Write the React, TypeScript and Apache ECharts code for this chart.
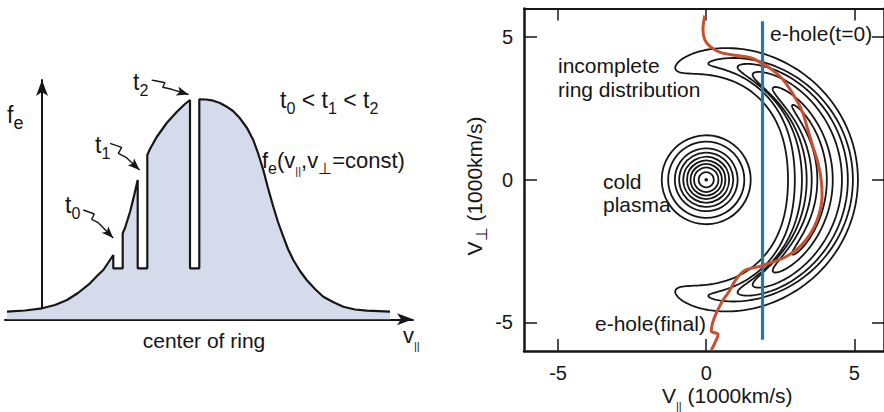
import React, { useEffect, useRef } from "react";
import * as echarts from "echarts";

const FONT = "'Liberation Sans', Arial, Helvetica, sans-serif";
const INK = "#161616";

// ---------- Left panel: schematic profile f_e(v||) with three holes (arbitrary units) ----------
const profileV = [-35, -17, 0, 13, 25, 36, 48, 56, 61.3, 66, 71.3, 71.3, 80.7, 80.7, 83, 88, 92, 95.7, 95.7, 105.3, 105.3, 108, 114.7, 124.7, 134.7, 143, 148, 148, 157.3, 157.3, 164, 171.3, 178, 184.7, 191, 198, 205, 211.3, 216, 221.3, 226, 231.3, 236, 241.3, 246, 251.3, 258, 264.7, 273, 281.3, 291, 301.3, 313, 324.7, 348];
const profileF = [7.6, 8.8, 11, 14.3, 19.3, 26.3, 36, 44.3, 49.3, 56.3, 64.3, 51, 51, 86, 91.3, 107.3, 123.3, 139.3, 51, 51, 164.3, 170.3, 182.3, 196.3, 207.3, 215.3, 219.3, 51, 51, 220, 219.8, 218.6, 216.3, 212.6, 208.3, 201, 191.3, 179.3, 166.3, 149.3, 131.3, 112.6, 97.3, 82.6, 70.3, 59.3, 48.3, 39.3, 30.3, 22.6, 17.3, 12.6, 9.8, 8.6, 7.6];

// squiggly pointer arrows (label -> hole)
const arrowT0 = [[41.3, 109.3], [52.3, 105.3], [49.7, 100], [56.3, 96.6], [71.2, 81.2]];
const arrowT1 = [[68, 176], [79.7, 172], [76.3, 166], [84, 162], [97.6, 149.4]];
const arrowT2 = [[109.7, 239.3], [123, 236.6], [120.7, 232], [129.7, 230], [146.5, 224.8]];
const arrowRot = [-136, -133, -107];

// ---------- Right panel: contours in (V||, V_perp) plane, 1000 km/s ----------
const axisTicks = [-5, 0, 5];
const coldCenter = [0, 0];
const coldRadii = [1.53, 1.31, 1.08, 0.93, 0.79, 0.66, 0.54, 0.42, 0.26];

// crescent ("incomplete ring") contour levels, outer to inner
// outer edge r = Ro + Do*cos(th), inner edge r = Ri - Di*cos(th)^2, ends at +/- tip angle
const crescentRo = [4.63, 4.28, 4.25, 4.15, 4.0, 3.95];
const crescentDo = [0.49, 0.67, 0.53, 0.43, 0.27, 0.12];
const crescentRi = [3.6, 3.85, 3.85, 3.8, 3.78, 3.82];
const crescentDi = [0.84, 0.86, 0.62, 0.41, 0.22, 0.07];
const crescentTipDeg = [105, 89, 75, 67, 55, 42];

// e-hole trajectories
const holeStartX = [1.9, 1.9];
const holeStartY = [5.55, -5.61];
const holeFinalX = [-0.05, -0.11, -0.05, 0.12, 0.45, 1.02, 1.52, 1.86, 2.14, 2.59, 3.04, 3.26, 3.43, 3.6, 3.77, 3.88, 3.91, 3.82, 3.65, 3.37, 3.04, 2.59, 2.14, 1.86, 1.3, 1.0, 0.78, 0.55, 0.35, 0.22, 0.17, 0.4, 0.3, 0.17];
const holeFinalY = [5.75, 5.26, 4.91, 4.68, 4.47, 4.35, 4.27, 4.09, 3.92, 3.51, 2.81, 2.34, 1.75, 1.17, 0.59, 0, -0.59, -1.17, -1.64, -2.1, -2.46, -2.75, -2.92, -3.02, -3.18, -3.5, -3.9, -4.25, -4.65, -5.0, -5.3, -5.42, -5.7, -5.98];

function zip(a: number[], b: number[]) {
  return a.map((v, i) => [v, b[i]]);
}

function richLabel(x: number, y: number, text: string, M: number, S: number, drop: number, barDrop = drop + 2, extra: any = {}) {
  const L = M + 10;
  return {
    type: "text",
    x,
    y,
    silent: true,
    z: 100,
    ...extra,
    style: {
      text,
      fontFamily: FONT,
      fontSize: M,
      fill: INK,
      align: extra.align || "left",
      verticalAlign: "middle",
      lineHeight: L,
      rich: {
        m: { fontSize: M, fontFamily: FONT, fill: INK, lineHeight: L },
        s: { fontSize: S, fontFamily: FONT, fill: INK, lineHeight: L - 2 * drop, verticalAlign: "bottom" },
        b: { fontSize: 11, fontFamily: FONT, fill: INK, lineHeight: L - 2 * barDrop, verticalAlign: "bottom" },
      },
    },
  };
}

function plain(x: number, y: number, text: string, size = 21, align = "left") {
  return {
    type: "text",
    x,
    y,
    silent: true,
    z: 100,
    style: { text, fontFamily: FONT, fontSize: size, fill: INK, align, verticalAlign: "middle" },
  };
}

function arrowSeries(pts: number[][], rot: number) {
  return {
    type: "line",
    xAxisIndex: 0,
    yAxisIndex: 0,
    data: pts.map((p, i) =>
      i === pts.length - 1
        ? { value: p, symbol: "arrow", symbolSize: [7, 12], symbolRotate: rot, itemStyle: { color: INK } }
        : { value: p, symbol: "none" }
    ),
    symbol: "none",
    lineStyle: { color: INK, width: 1.4 },
    z: 5,
    silent: true,
  };
}

export default function App() {
  const ref = useRef<HTMLDivElement>(null);
  useEffect(() => {
    if (!ref.current) return;
    const chart = echarts.init(ref.current, null, { renderer: "svg" });
    const axisStyleR = { color: INK, width: 2.5 };
    const option: any = {
      animation: false,
      backgroundColor: "#ffffff",
      grid: [
        { left: 5, top: 80, width: 408, height: 239.3 },
        { left: 524, top: 8.5, width: 361, height: 342.5 },
      ],
      xAxis: [
        {
          gridIndex: 0, type: "value", min: -37, max: 371,
          axisLine: { onZero: true, symbol: ["none", "arrow"], symbolSize: [9, 16], lineStyle: { color: INK, width: 2 } },
          axisTick: { show: false }, axisLabel: { show: false }, splitLine: { show: false },
        },
        {
          gridIndex: 1, type: "value", min: -6.15, max: 6, position: "bottom",
          axisLine: { onZero: false, lineStyle: axisStyleR },
          axisTick: { inside: true, length: 12, customValues: axisTicks, lineStyle: { color: INK, width: 1.5 } },
          axisLabel: { customValues: axisTicks, fontSize: 20, color: INK, margin: 12, fontFamily: FONT },
          splitLine: { show: false },
        },
        {
          gridIndex: 1, type: "value", min: -6.15, max: 6, position: "top",
          axisLine: { onZero: false, lineStyle: { color: INK, width: 2 } },
          axisTick: { inside: true, length: 12, customValues: axisTicks, lineStyle: { color: INK, width: 1.5 } },
          axisLabel: { show: false }, splitLine: { show: false },
        },
      ],
      yAxis: [
        {
          gridIndex: 0, type: "value", min: 0, max: 239.3,
          axisLine: { onZero: true, symbol: ["none", "arrow"], symbolSize: [9, 16], lineStyle: { color: INK, width: 2 } },
          axisTick: { show: false }, axisLabel: { show: false }, splitLine: { show: false },
        },
        {
          gridIndex: 1, type: "value", min: -6, max: 6, position: "left",
          axisLine: { onZero: false, lineStyle: axisStyleR },
          axisTick: { inside: true, length: 13, customValues: axisTicks, lineStyle: { color: INK, width: 1.5 } },
          axisLabel: { customValues: axisTicks, fontSize: 20, color: INK, margin: 11, fontFamily: FONT },
          splitLine: { show: false },
        },
        {
          gridIndex: 1, type: "value", min: -6, max: 6, position: "right",
          axisLine: { onZero: false, lineStyle: axisStyleR },
          axisTick: { inside: true, length: 12, customValues: axisTicks, lineStyle: { color: INK, width: 1.5 } },
          axisLabel: { show: false }, splitLine: { show: false },
        },
      ],
      series: [
        {
          type: "line", xAxisIndex: 0, yAxisIndex: 0,
          data: zip(profileV, profileF),
          symbol: "none", smooth: false,
          lineStyle: { color: INK, width: 2.2 },
          areaStyle: { color: "#d5dbea", opacity: 1 },
          z: 2, silent: true,
        },
        arrowSeries(arrowT0, arrowRot[0]),
        arrowSeries(arrowT1, arrowRot[1]),
        arrowSeries(arrowT2, arrowRot[2]),
        {
          type: "custom", xAxisIndex: 1, yAxisIndex: 1,
          data: [coldCenter],
          silent: true, z: 2,
          renderItem: (params: any, api: any) => {
            const c = api.coord([api.value(0), api.value(1)]);
            const children: any[] = coldRadii.map((r) => {
              const s = api.size([r, r]);
              return {
                type: "circle",
                shape: { cx: c[0], cy: c[1], r: (s[0] + s[1]) / 2 },
                style: { fill: "none", stroke: INK, lineWidth: 1.8 },
              };
            });
            children.push({ type: "circle", shape: { cx: c[0], cy: c[1], r: 1.8 }, style: { fill: INK } });
            return { type: "group", children };
          },
        },
        {
          type: "custom", xAxisIndex: 1, yAxisIndex: 1,
          data: crescentRo.map((_, i) => [0, 0, i]),
          silent: true, z: 2,
          renderItem: (params: any, api: any) => {
            const i = params.dataIndex;
            const cx = api.value(0);
            const cy = api.value(1);
            const tip = (crescentTipDeg[i] * Math.PI) / 180;
            const outer: number[][] = [];
            const inner: number[][] = [];
            const N = 140;
            for (let k = 0; k <= N; k++) {
              const s = -1 + (2 * k) / N;
              const u = Math.sin((s * Math.PI) / 2);
              const th = u * tip;
              const c = Math.cos(th);
              const ro = crescentRo[i] + crescentDo[i] * c;
              const ri = crescentRi[i] - crescentDi[i] * c * c;
              const mid = (ro + ri) / 2;
              const hw = ((ro - ri) / 2) * Math.sqrt(Math.max(0, 1 - Math.pow(Math.abs(u), 8)));
              outer.push(api.coord([cx + (mid + hw) * Math.cos(th), cy + (mid + hw) * Math.sin(th)]));
              inner.push(api.coord([cx + (mid - hw) * Math.cos(th), cy + (mid - hw) * Math.sin(th)]));
            }
            const points = outer.concat(inner.reverse());
            return { type: "polygon", shape: { points }, style: { fill: "none", stroke: INK, lineWidth: 1.8 } };
          },
        },
        {
          type: "line", xAxisIndex: 1, yAxisIndex: 1,
          data: zip(holeStartX, holeStartY),
          symbol: "none",
          lineStyle: { color: "#2e76a4", width: 3.2 },
          z: 4, silent: true,
        },
        {
          type: "line", xAxisIndex: 1, yAxisIndex: 1,
          data: zip(holeFinalX, holeFinalY),
          symbol: "none", smooth: 0.35,
          lineStyle: { color: "#c6502f", width: 3 },
          z: 5, silent: true,
        },
      ],
      graphic: [
        // left panel labels
        richLabel(7, 115, "{m|f}{s|e}", 23, 18, 4.2),
        richLabel(65, 205, "{m|t}{s|0}", 23, 16, 7.4),
        richLabel(95, 145, "{m|t}{s|1}", 23, 16, 7.4),
        richLabel(133, 82, "{m|t}{s|2}", 23, 16, 7.4),
        richLabel(280, 100, "{m|t}{s|0}{m| < t}{s|1}{m| < t}{s|2}", 23, 16, 7.4),
        richLabel(262, 160, "{m|f}{s|e}{m|(v}{b|||}{m|,v}{s|⊥}{m|=const)}", 22, 16, 8, 11),
        plain(204, 340.5, "center of ring", 21, "center"),
        richLabel(403, 335.3, "{m|v}{b|||}", 22, 16, 8, 8.5),
        // right panel labels
        plain(770, 33.8, "e-hole(t=0)"),
        plain(558, 65.5, "incomplete"),
        plain(558, 89.7, "ring distribution"),
        plain(603, 181, "cold"),
        plain(603, 204.7, "plasma"),
        plain(595, 323, "e-hole(final)"),
        richLabel(662, 395.7, "{m|V}{b|||}{m| (1000km/s)}", 21, 16, 6, 6.3),
        richLabel(474, 186, "{m|V}{s|⊥}{m| (1000km/s)}", 21, 16, 6, 6, { rotation: Math.PI / 2, align: "center" }),
      ],
    };
    chart.setOption(option);
    return () => chart.dispose();
  }, []);
  return (
    <div
      ref={ref}
      style={{ position: "absolute", left: 0, top: 0, width: 884, height: 412, background: "#fff" }}
    />
  );
}
